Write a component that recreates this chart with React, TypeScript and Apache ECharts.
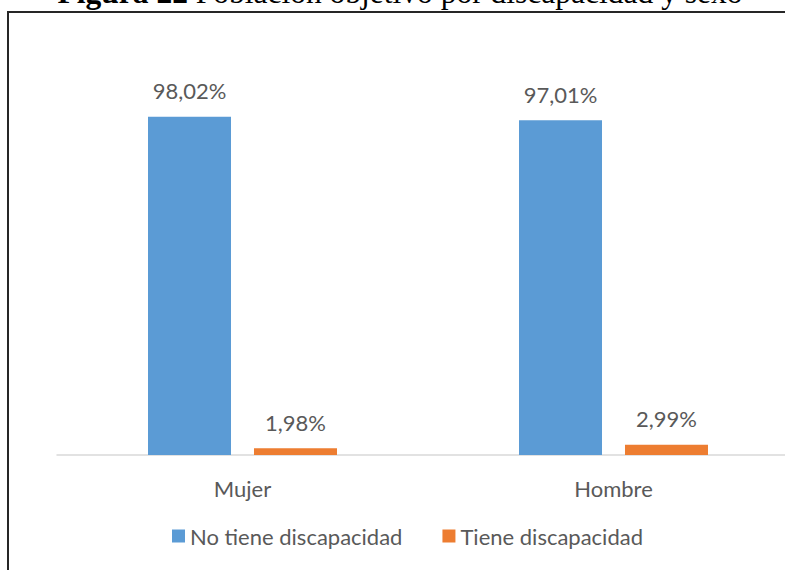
import React, { useEffect, useRef } from "react";
import * as echarts from "echarts";

const categories = ["Mujer", "Hombre"];
const seriesNames = ["No tiene discapacidad", "Tiene discapacidad"];
const noTiene = [98.02, 97.01];
const tiene = [1.98, 2.99];
const titleBold = "Figura 22";
const titleRest = " Población objetivo por discapacidad y sexo";

const fmt = (v: number) => v.toFixed(2).replace(".", ",") + "%";

export default function App() {
  const ref = useRef<HTMLDivElement>(null);
  useEffect(() => {
    if (!ref.current) return;
    const chart = echarts.init(ref.current, null, { renderer: "svg" });
    const font = "Lato";
    const gray = "#595959";
    const fs = 22;
    chart.setOption({
      animation: false,
      backgroundColor: "#ffffff",
      graphic: [
        {
          type: "rect",
          shape: { x: 8, y: 12, width: 810, height: 600 },
          style: { fill: "none", stroke: "#262626", lineWidth: 2 },
          z: 10,
        },
        {
          type: "text",
          x: 400,
          y: 8,
          style: {
            text: "{b|" + titleBold + "}{r|" + titleRest + "}",
            align: "center",
            verticalAlign: "bottom",
            rich: {
              b: { fontFamily: "Liberation Serif", fontWeight: "bold", fontSize: 31.5, fill: "#000" },
              r: { fontFamily: "Liberation Serif", fontSize: 31.5, fill: "#000" },
            },
          },
          z: 10,
        },
      ],
      legend: {
        data: seriesNames,
        left: 172,
        top: 525,
        padding: 0,
        itemWidth: 13,
        itemHeight: 13,
        itemGap: 40,
        icon: "rect",
        textStyle: { fontFamily: font, fontSize: fs, color: gray },
      },
      grid: { left: 57, width: 742, top: 110, height: 345 },
      xAxis: {
        type: "category",
        data: categories,
        axisLine: { lineStyle: { color: "#d9d9d9", width: 1.5 } },
        axisTick: { show: false },
        axisLabel: { fontFamily: font, fontSize: fs, color: gray, margin: 22 },
      },
      yAxis: {
        type: "value",
        min: 0,
        max: 100,
        show: false,
        splitLine: { show: false },
      },
      series: [
        {
          name: seriesNames[0],
          type: "bar",
          data: noTiene,
          barWidth: 83,
          barGap: "27.7%",
          itemStyle: { color: "#5B9BD5" },
          label: {
            show: true,
            position: "top",
            distance: 15,
            formatter: (p: any) => fmt(p.value),
            fontFamily: font,
            fontSize: fs,
            color: gray,
          },
        },
        {
          name: seriesNames[1],
          type: "bar",
          data: tiene,
          barWidth: 83,
          barGap: "27.7%",
          itemStyle: { color: "#ED7D31" },
          label: {
            show: true,
            position: "top",
            distance: 15,
            formatter: (p: any) => fmt(p.value),
            fontFamily: font,
            fontSize: fs,
            color: gray,
          },
        },
      ],
    });
    return () => chart.dispose();
  }, []);
  return (
    <div style={{ position: "fixed", left: 0, top: 0, width: 785, height: 570, overflow: "hidden", background: "#fff" }}>
      <div ref={ref} style={{ width: 820, height: 570 }} />
    </div>
  );
}
